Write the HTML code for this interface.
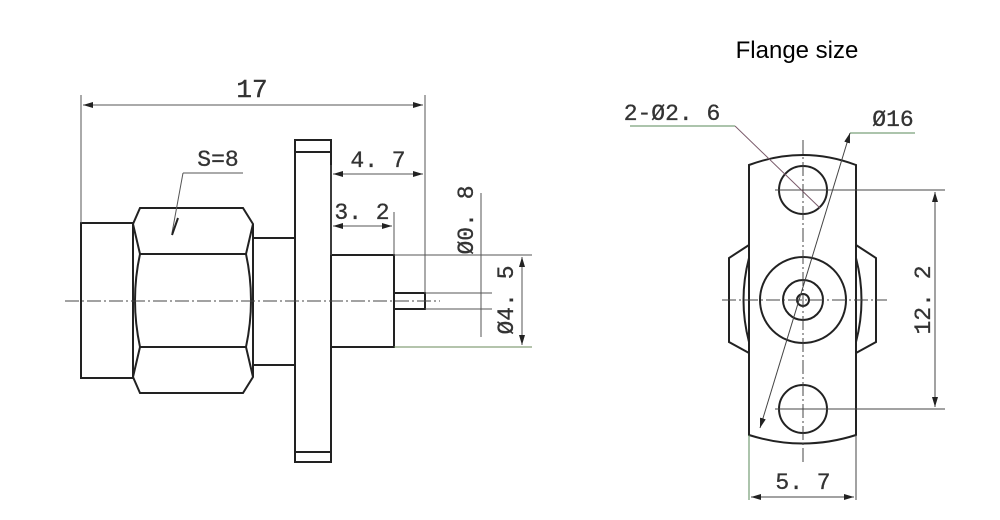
<!DOCTYPE html>
<html><head><meta charset="utf-8"><style>
html,body{margin:0;padding:0;background:#fff;}
svg{display:block;}
.m{font-family:"Liberation Mono","DejaVu Sans Mono",monospace;fill:#333;}
</style></head><body>
<svg width="1000" height="520" viewBox="0 0 1000 520" xmlns="http://www.w3.org/2000/svg">
<defs>
<marker id="a" viewBox="0 0 10 6" refX="10" refY="3" markerWidth="10" markerHeight="6" orient="auto-start-reverse" markerUnits="userSpaceOnUse"><path d="M0,0L10,3L0,6z" fill="#222"/></marker>
</defs>
<text x="797" y="58" font-family="Liberation Sans, sans-serif" font-size="24" text-anchor="middle" fill="#000">Flange size</text>

<!-- LEFT VIEW -->
<g stroke="#222" stroke-width="2" fill="none">
<rect x="81" y="223" width="52" height="155"/>
<path d="M140,208H243L253,224V377L243,393H140L133,377V224Z"/>
<path d="M133,224L140,254H246L253,224 M133,377L140,347H246L253,377"/>
<path d="M140,254Q130,300 140,347 M246,254Q256,300 246,347"/>
<rect x="253" y="238" width="42" height="127"/>
<rect x="295" y="140" width="36" height="322"/>
<path d="M295,152H331M295,452H331"/>
<rect x="331" y="255" width="63" height="92"/>
<rect x="394" y="293" width="31" height="16"/>
</g>
<path d="M65,301H440" stroke="#444" stroke-width="1" stroke-dasharray="14,3,2,3"/>
<g stroke="#555" stroke-width="1" fill="none">
<path d="M81,95V223M425,95V293M331,165V255M394,212V255"/>
<path d="M83,105H423" marker-start="url(#a)" marker-end="url(#a)"/>
<path d="M333,174H423" marker-start="url(#a)" marker-end="url(#a)"/>
<path d="M333,226H392" marker-start="url(#a)" marker-end="url(#a)"/>
<path d="M183,173H243M183,173L172,233" />
<path d="M481,193V337"/>
<path d="M425,293H492M425,309H492"/>
<path d="M394,255H532"/>
<path d="M394,347H532" stroke="#6a8a5a"/>
<path d="M522,257V345" marker-start="url(#a)" marker-end="url(#a)"/>
</g>
<path d="M178,218L172,235" stroke="#222" stroke-width="2"/>
<text class="m" x="252" y="97" font-size="26" text-anchor="middle" stroke="#333" stroke-width="0.4">17</text>
<text class="m" x="218" y="166" font-size="23" text-anchor="middle" stroke="#333" stroke-width="0.3">S=8</text>
<text class="m" x="378" y="167" font-size="23" text-anchor="middle" stroke="#333" stroke-width="0.3">4. 7</text>
<text class="m" x="362" y="219" font-size="23" text-anchor="middle" stroke="#333" stroke-width="0.3">3. 2</text>
<text class="m" font-size="23" text-anchor="middle" transform="translate(473,220) rotate(-90)" stroke="#333" stroke-width="0.3">Ø0. 8</text>
<text class="m" font-size="23" text-anchor="middle" transform="translate(513,300) rotate(-90)" stroke="#333" stroke-width="0.3">Ø4. 5</text>

<!-- RIGHT VIEW -->
<g stroke="#222" stroke-width="2" fill="none">
<path d="M749,165Q803,145 856,165V435Q803,452 749,435Z"/>
<circle cx="803" cy="190" r="24"/>
<circle cx="803" cy="409" r="24"/>
<circle cx="803" cy="300" r="43"/>
<circle cx="803" cy="300" r="20"/>
<circle cx="803" cy="300" r="6"/>
<path d="M749,245L729,258V342L749,353 M749,258Q738,300 749,342"/>
<path d="M856,245L876,258V342L856,353 M856,258Q867,300 856,342"/>
</g>
<g stroke="#444" stroke-width="1" fill="none">
<path d="M803,140V462M722,300H887" stroke-dasharray="14,3,2,3"/>
<path d="M775,190H945M775,409H945"/>
<path d="M935,192V407" marker-start="url(#a)" marker-end="url(#a)"/>
<path d="M749,435V500" stroke="#5a8a5a"/>
<path d="M856,435V500"/>
<path d="M751,497H854" marker-start="url(#a)" marker-end="url(#a)"/>
<path d="M850,133H915" stroke="#5a8a5a"/>
<path d="M850,133L760,428" marker-start="url(#a)" marker-end="url(#a)"/>
<path d="M630,126H735" stroke="#5a8a5a"/>
<path d="M735,126L820,208" stroke="#7a5a6a"/>
</g>
<text class="m" x="672" y="120" font-size="23" text-anchor="middle" stroke="#333" stroke-width="0.3">2-Ø2. 6</text>
<text class="m" x="893" y="126" font-size="23" text-anchor="middle" stroke="#333" stroke-width="0.3">Ø16</text>
<text class="m" x="803" y="489" font-size="23" text-anchor="middle" stroke="#333" stroke-width="0.3">5. 7</text>
<text class="m" font-size="23" text-anchor="middle" transform="translate(930,300) rotate(-90)" stroke="#333" stroke-width="0.3">12. 2</text>
</svg>
</body></html>
